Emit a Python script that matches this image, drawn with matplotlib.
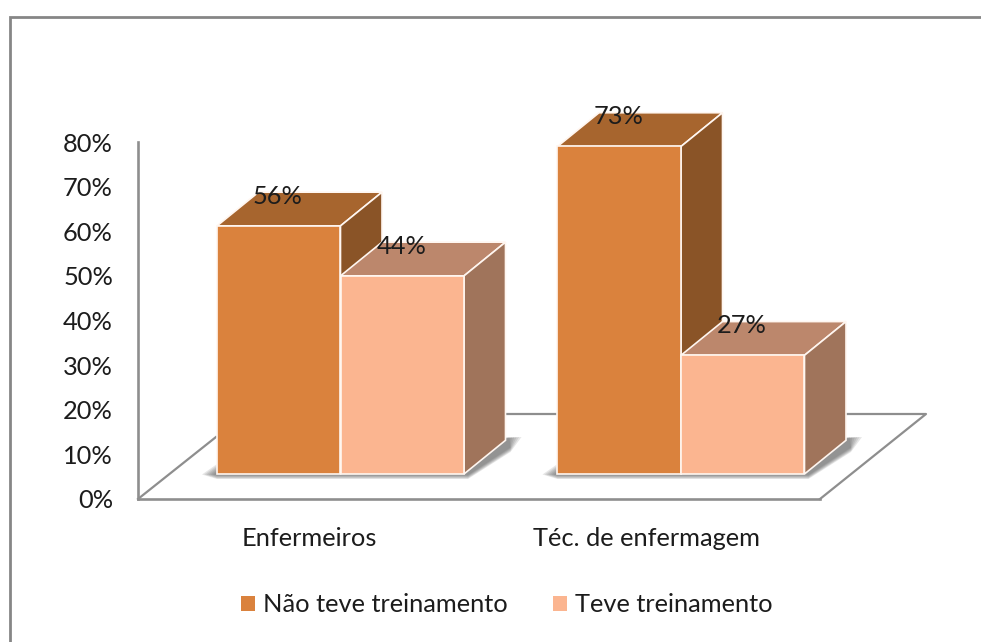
import matplotlib.pyplot as plt
from matplotlib.patches import Polygon, Rectangle, Patch

plt.rcParams['font.family'] = ['Lato', 'DejaVu Sans']

categories = ['Enfermeiros', 'Téc. de enfermagem']
series_names = ['Não teve treinamento', 'Teve treinamento']
nao_teve = [55.6, 73.4]
teve = [44.4, 26.6]
y_ticks = [0, 10, 20, 30, 40, 50, 60, 70, 80]

W, H = 981, 642
PX = 357 / 80      # pixels per percent point
FLOOR = 25 / PX    # bars stand this far up the axis (pseudo 3d floor)
DX, DY = 41.5, 33.7 / PX
BAR_W = 123.5
group_x = [340.5, 681]
label_x = [309, 647]
FS = 18.3
TEXT = '#1c1c1c'
GRID = '#8e8e8e'

colours = [
    {'front': '#da823d', 'top': '#a7652e', 'side': '#8a5427'},
    {'front': '#fbb590', 'top': '#bc876c', 'side': '#a0745b'},
]

fig = plt.figure(figsize=(W / 100, H / 100), dpi=100)
fig.patches.append(Rectangle((9.5 / W, -0.1), 1.2, (H - 16.5) / H + 0.1, transform=fig.transFigure,
                             fill=False, edgecolor='#868686', linewidth=2.0))
ax = fig.add_axes([138 / W, (H - 499) / H, (820 - 138) / W, 357 / H])
ax.set_xlim(138, 820)
ax.set_ylim(0, 80)
for s in ['top', 'right']:
    ax.spines[s].set_visible(False)
for s in ['left', 'bottom']:
    ax.spines[s].set_color(GRID)
    ax.spines[s].set_linewidth(1.9)

# floor outline
ax.plot([138, 216], [0, 62 / PX], color=GRID, lw=1.6, clip_on=False, zorder=1)
ax.plot([820, 926, 244], [0, 85 / PX, 85 / PX], color=GRID, lw=1.6, clip_on=False, zorder=1)

ax.set_yticks(y_ticks)
ax.set_yticklabels([f'{t}%' for t in y_ticks], fontsize=FS, color=TEXT)
ax.set_xticks(label_x)
ax.set_xticklabels(categories, fontsize=FS, color=TEXT)
ax.tick_params(axis='y', length=0, pad=18)
ax.tick_params(axis='x', length=0, pad=20)


def shadow(x0, x1):
    # soft shadow on the floor, layered to fake a blur
    for grow in [1.0, 0.85, 0.7, 0.55, 0.4, 0.25]:
        pts = [(x0 - 15 * grow, FLOOR - 0.5 / PX), (x0, FLOOR + 10 * grow / PX),
               (x1 + DX + 16 * grow, FLOOR + 37 / PX), (x1 + DX + 5, FLOOR + 28 / PX - 6 * grow / PX),
               (x1 + 4, FLOOR - 5 * grow / PX), (x0, FLOOR - 5 * grow / PX)]
        ax.add_patch(Polygon(pts, closed=True, facecolor='#505050', edgecolor='none', alpha=0.14,
                             clip_on=False, zorder=2))


def bar_3d(x0, value, col, z):
    x1 = x0 + BAR_W
    top = FLOOR + value
    edge = dict(edgecolor='#fff6f0', linewidth=1.2, clip_on=False, zorder=z)
    ax.add_patch(Polygon([(x0, top), (x1, top), (x1 + DX, top + DY), (x0 + DX, top + DY)],
                         closed=True, facecolor=col['top'], **edge))
    ax.add_patch(Polygon([(x1, FLOOR), (x1 + DX, FLOOR + DY), (x1 + DX, top + DY), (x1, top)],
                         closed=True, facecolor=col['side'], **edge))
    ax.bar(x0, value, width=BAR_W, bottom=FLOOR, align='edge', color=col['front'], clip_on=False,
           edgecolor=edge['edgecolor'], linewidth=edge['linewidth'], zorder=z)


for i, gx in enumerate(group_x):
    shadow(gx - BAR_W, gx + BAR_W)
    bar_3d(gx - BAR_W, nao_teve[i], colours[0], 3 + 2 * i)
    bar_3d(gx, teve[i], colours[1], 4 + 2 * i)

for i, gx in enumerate(group_x):
    for x0, v in [(gx - BAR_W, nao_teve[i]), (gx, teve[i])]:
        ax.annotate(f'{round(v)}%', (x0 + BAR_W / 2, FLOOR + v), xytext=(-0.7, 21.5), textcoords='offset points',
                    ha='center', va='center', fontsize=FS, color=TEXT, zorder=10, annotation_clip=False)

handles = [Patch(facecolor=colours[0]['front']), Patch(facecolor=colours[1]['front'])]
fig.legend(handles, series_names, loc='center', bbox_to_anchor=(507 / W, (H - 605) / H), ncol=2, frameon=False,
           fontsize=FS, labelcolor=TEXT, handlelength=0.55, handleheight=0.55, handletextpad=0.3, columnspacing=1.8)

fig.savefig('out.png', dpi=100)
